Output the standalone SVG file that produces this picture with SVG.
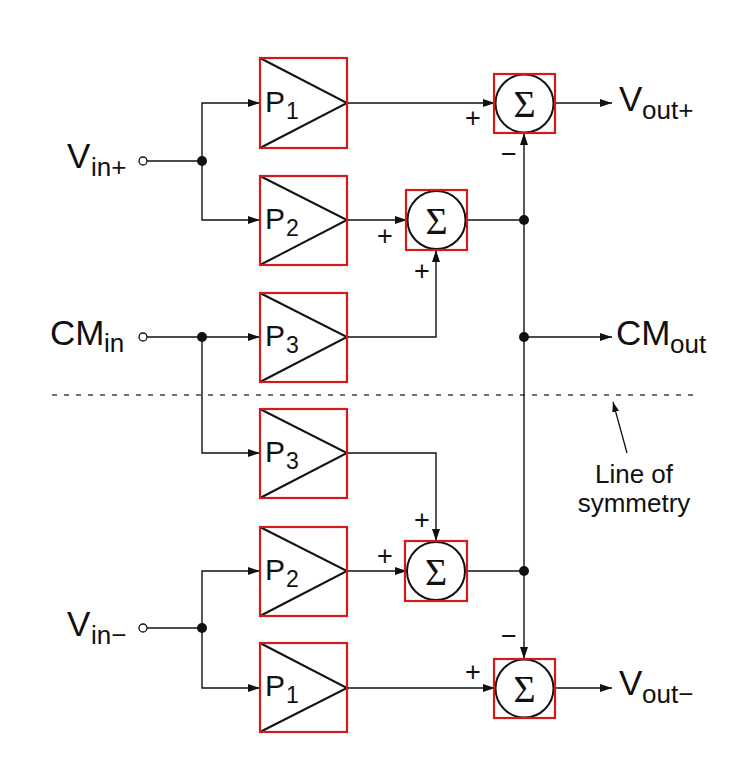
<svg xmlns="http://www.w3.org/2000/svg" width="751" height="778" viewBox="0 0 751 778">
<defs>
<style>
.box{fill:none;stroke:#d21a1a;stroke-width:2.2}
.tri{fill:none;stroke:#111;stroke-width:2}
.sum{fill:#fff;stroke:#111;stroke-width:2}
.w{fill:none;stroke:#111;stroke-width:1.4}
.dot{fill:#111}
.port{fill:#fff;stroke:#111;stroke-width:1.3}
.t{font-family:"Liberation Sans",Arial,sans-serif;fill:#111}
.big{font-size:35px}
.sub{font-size:26px}
.pl{font-size:30px}
.ps{font-size:23px}
.sg{font-family:"Liberation Serif","Times New Roman",serif;font-size:38px;fill:#111;text-anchor:middle}
.pm{font-family:"Liberation Sans",Arial,sans-serif;font-size:27px;fill:#111;text-anchor:middle}
</style>
<marker id="ah" markerUnits="userSpaceOnUse" markerWidth="13" markerHeight="9" refX="12" refY="4" orient="auto-start-reverse">
<path d="M0,0 L12,4 L0,8 z" fill="#111"/>
</marker>
<marker id="ah2" markerUnits="userSpaceOnUse" markerWidth="11" markerHeight="8" refX="10" refY="3.5" orient="auto">
<path d="M0,0 L10,3.5 L0,7 z" fill="#111"/>
</marker>
</defs>
<rect width="751" height="778" fill="#fff"/>

<g id="connectors">
<line x1="52" y1="395" x2="696" y2="395" stroke="#444" stroke-width="1.3" stroke-dasharray="5,7"/>
<line class="w" x1="147" y1="161" x2="202" y2="161"/>
<path class="w" d="M260,103 H202 V220 H260" marker-start="url(#ah)" marker-end="url(#ah)"/>
<path class="w" d="M147,337 H260" marker-end="url(#ah)"/>
<path class="w" d="M202,337 V453 H260" marker-end="url(#ah)"/>
<line class="w" x1="147" y1="628" x2="202" y2="628"/>
<path class="w" d="M260,571 H202 V688 H260" marker-start="url(#ah)" marker-end="url(#ah)"/>
<path class="w" d="M347,103 H495" marker-end="url(#ah)"/>
<path class="w" d="M347,220 H407" marker-end="url(#ah)"/>
<path class="w" d="M347,337 H436 V250" marker-end="url(#ah)"/>
<path class="w" d="M347,453 H436 V541" marker-end="url(#ah)"/>
<path class="w" d="M347,571 H407" marker-end="url(#ah)"/>
<path class="w" d="M347,688 H495" marker-end="url(#ah)"/>
<path class="w" d="M467,220 H524"/>
<path class="w" d="M467,571 H524"/>
<path class="w" d="M524,133 V659" marker-start="url(#ah)" marker-end="url(#ah)"/>
<path class="w" d="M524,337 H612" marker-end="url(#ah)"/>
<path class="w" d="M554,103 H612" marker-end="url(#ah)"/>
<path class="w" d="M554,688 H612" marker-end="url(#ah)"/>
<line x1="627" y1="453" x2="613" y2="402" stroke="#111" stroke-width="1.3" marker-end="url(#ah2)"/>
<circle class="dot" cx="202" cy="161" r="5"/>
<circle class="dot" cx="202" cy="337" r="5"/>
<circle class="dot" cx="202" cy="628" r="5"/>
<circle class="dot" cx="524" cy="220" r="5"/>
<circle class="dot" cx="524" cy="337" r="5"/>
<circle class="dot" cx="524" cy="571" r="5"/>
</g>

<g id="in_vplus">
<circle class="port" cx="143" cy="161" r="4"/>
<text class="t"><tspan class="big" x="67" y="168">V</tspan><tspan class="sub" x="91" y="176">in+</tspan></text>
</g>
<g id="in_cm">
<circle class="port" cx="143" cy="337" r="4"/>
<text class="t"><tspan class="big" x="50" y="345">CM</tspan><tspan class="sub" x="104" y="352">in</tspan></text>
</g>
<g id="in_vminus">
<circle class="port" cx="143" cy="628" r="4"/>
<text class="t"><tspan class="big" x="67" y="636">V</tspan><tspan class="sub" x="91" y="644">in−</tspan></text>
</g>

<g id="p1_top">
<path class="tri" d="M260,58 L347,103 L260,148"/>
<rect class="box" x="260" y="58" width="87" height="90"/>
<text class="t"><tspan class="pl" x="265" y="112">P</tspan><tspan class="ps" x="286" y="119">1</tspan></text>
</g>
<g id="p2_top">
<path class="tri" d="M260,176 L347,220 L260,265"/>
<rect class="box" x="260" y="176" width="87" height="89"/>
<text class="t"><tspan class="pl" x="265" y="229">P</tspan><tspan class="ps" x="286" y="236">2</tspan></text>
</g>
<g id="p3_top">
<path class="tri" d="M260,293 L347,337 L260,382"/>
<rect class="box" x="260" y="293" width="87" height="89"/>
<text class="t"><tspan class="pl" x="265" y="346">P</tspan><tspan class="ps" x="286" y="353">3</tspan></text>
</g>
<g id="p3_bot">
<path class="tri" d="M260,409 L347,453 L260,498"/>
<rect class="box" x="260" y="409" width="87" height="89"/>
<text class="t"><tspan class="pl" x="265" y="462">P</tspan><tspan class="ps" x="286" y="469">3</tspan></text>
</g>
<g id="p2_bot">
<path class="tri" d="M260,527 L347,571 L260,616"/>
<rect class="box" x="260" y="527" width="87" height="89"/>
<text class="t"><tspan class="pl" x="265" y="580">P</tspan><tspan class="ps" x="286" y="587">2</tspan></text>
</g>
<g id="p1_bot">
<path class="tri" d="M260,643 L347,688 L260,732"/>
<rect class="box" x="260" y="643" width="87" height="89"/>
<text class="t"><tspan class="pl" x="265" y="696">P</tspan><tspan class="ps" x="286" y="703">1</tspan></text>
</g>

<g id="sum1_top">
<circle class="sum" cx="524.5" cy="103.5" r="29"/>
<rect class="box" x="494" y="74" width="61" height="59"/>
<text class="sg" x="524.5" y="117">Σ</text>
</g>
<g id="sum2_top">
<circle class="sum" cx="436.5" cy="220" r="29"/>
<rect class="box" x="406" y="190" width="61" height="60"/>
<text class="sg" x="436.5" y="234">Σ</text>
</g>
<g id="sum2_bot">
<circle class="sum" cx="436" cy="571" r="29"/>
<rect class="box" x="405" y="541" width="62" height="60"/>
<text class="sg" x="436" y="585">Σ</text>
</g>
<g id="sum1_bot">
<circle class="sum" cx="524.5" cy="688.5" r="29"/>
<rect class="box" x="494" y="659" width="61" height="59"/>
<text class="sg" x="524.5" y="702">Σ</text>
</g>

<g id="signs">
<text class="pm" x="473" y="127">+</text>
<text class="pm" x="385" y="245">+</text>
<text class="pm" x="422" y="280">+</text>
<text class="pm" x="422" y="529">+</text>
<text class="pm" x="385" y="565">+</text>
<text class="pm" x="473" y="681">+</text>
<text class="pm" x="509" y="163">−</text>
<text class="pm" x="509" y="645">−</text>
</g>

<g id="out_vplus">
<text class="t"><tspan class="big" x="619" y="111">V</tspan><tspan class="sub" x="642" y="119">out+</tspan></text>
</g>
<g id="out_cm">
<text class="t"><tspan class="big" x="616" y="345">CM</tspan><tspan class="sub" x="670" y="353">out</tspan></text>
</g>
<g id="out_vminus">
<text class="t"><tspan class="big" x="619" y="695">V</tspan><tspan class="sub" x="642" y="703">out−</tspan></text>
</g>
<g id="symmetry_label">
<text class="t" font-size="26" text-anchor="middle" x="634" y="483">Line of</text>
<text class="t" font-size="26" text-anchor="middle" x="634" y="512">symmetry</text>
</g>
</svg>
